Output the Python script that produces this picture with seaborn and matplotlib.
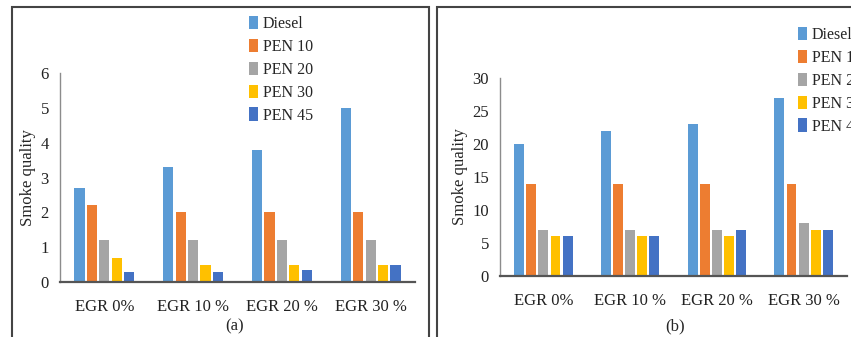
import pandas as pd
import numpy as np
import seaborn as sns
from matplotlib import pyplot as plt
from matplotlib.patches import Rectangle

egr = ['EGR 0%', 'EGR 10 %', 'EGR 20 %', 'EGR 30 %']
fuels = ['Diesel', 'PEN 10', 'PEN 20', 'PEN 30', 'PEN 45']
colors = ['#5B9BD5', '#ED7D31', '#A5A5A5', '#FFC000', '#4472C4']

# panel (a)
diesel_a = [2.7, 3.3, 3.8, 5.0]
pen10_a = [2.2, 2.0, 2.0, 2.0]
pen20_a = [1.2, 1.2, 1.2, 1.2]
pen30_a = [0.7, 0.5, 0.5, 0.5]
pen45_a = [0.3, 0.3, 0.35, 0.5]

# panel (b)
diesel_b = [20, 22, 23, 27]
pen10_b = [14, 14, 14, 14]
pen20_b = [7, 7, 7, 8]
pen30_b = [6, 6, 6, 7]
pen45_b = [6, 6, 7, 7]


def long_df(series):
    rows = []
    for fuel, vals in zip(fuels, series):
        for e, v in zip(egr, vals):
            rows.append({'EGR': e, 'fuel': fuel, 'value': v})
    return pd.DataFrame(rows)


def panel(fig, rect, df, ymax, step, leg_anchor, caption_xy, caption):
    ax = fig.add_axes(rect)
    sns.barplot(data=df, x='EGR', y='value', hue='fuel', order=egr, hue_order=fuels,
                palette=colors, width=0.7, gap=0.18, ax=ax, edgecolor='none',
                saturation=1, errorbar=None)
    ax.set_ylim(0, ymax)
    ax.set_yticks(np.arange(0, ymax + 0.001, step))
    ax.set_xlim(-0.5, 3.5)
    ax.set_xlabel('')
    ax.set_ylabel('Smoke quality', fontsize=12, labelpad=3)
    ax.tick_params(axis='both', length=0, labelsize=12, colors='#222222')
    ax.tick_params(axis='x', pad=12)
    ax.tick_params(axis='y', pad=8)
    for s in ['top', 'right']:
        ax.spines[s].set_visible(False)
    ax.spines['left'].set_color('#8c8c8c')
    ax.spines['left'].set_linewidth(1.0)
    ax.spines['bottom'].set_color('#555555')
    ax.spines['bottom'].set_linewidth(1.6)
    handles, labels = ax.get_legend_handles_labels()
    ax.get_legend().remove()
    fig.legend(handles, labels, loc='upper left', bbox_to_anchor=leg_anchor,
               bbox_transform=fig.transFigure, frameon=False, fontsize=11.5,
               handlelength=0.55, handleheight=0.9, handletextpad=0.3,
               labelspacing=0.42, borderpad=0, borderaxespad=0)
    fig.text(caption_xy[0], caption_xy[1], caption, ha='center', va='center', fontsize=12)
    return ax


def main():
    sns.set_style('white')
    plt.rcParams['font.family'] = ['Liberation Serif', 'DejaVu Serif']
    fig = plt.figure(figsize=(8.51, 3.37), dpi=100)

    W, H = 851.0, 337.0
    # outer frames around each panel
    fig.patches.append(Rectangle((12 / W, -0.05), (429 - 12) / W, 1.05 - 7 / H,
                                 transform=fig.transFigure, fill=False,
                                 edgecolor='#444444', linewidth=1.5))
    fig.patches.append(Rectangle((437 / W, -0.05), 0.5, 1.05 - 7 / H,
                                 transform=fig.transFigure, fill=False,
                                 edgecolor='#444444', linewidth=1.5))

    panel(fig, [60 / W, 1 - 282 / H, 355 / W, 209 / H],
          long_df([diesel_a, pen10_a, pen20_a, pen30_a, pen45_a]), 6, 1,
          (249 / W, 1 - 16 / H), (235 / W, 1 - 326 / H), '(a)')
    panel(fig, [500 / W, 1 - 276 / H, 347 / W, 198 / H],
          long_df([diesel_b, pen10_b, pen20_b, pen30_b, pen45_b]), 30, 5,
          (798 / W, 1 - 27 / H), (675 / W, 1 - 326 / H), '(b)')

    fig.savefig('out.png', dpi=100)


if __name__ == '__main__':
    main()
